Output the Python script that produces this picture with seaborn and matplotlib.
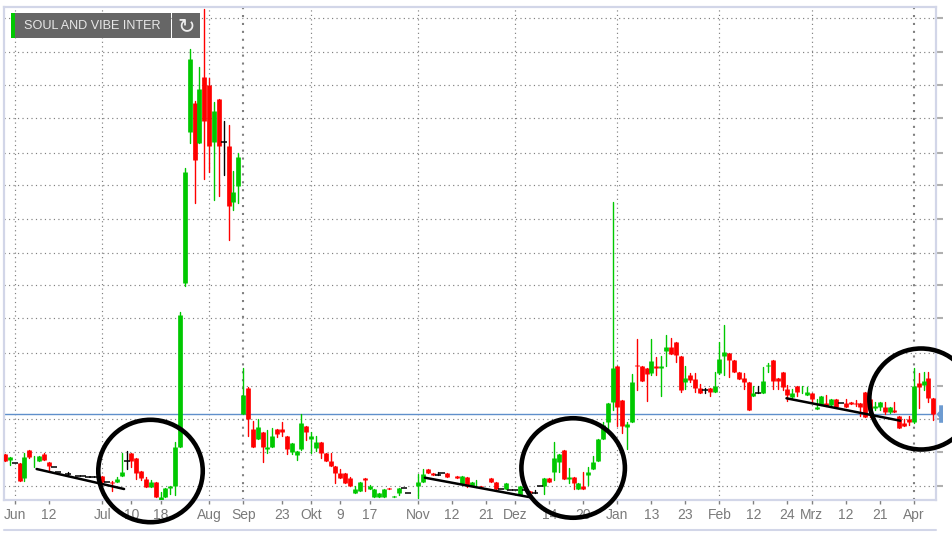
import numpy as np
import pandas as pd
import matplotlib
matplotlib.use("Agg")
import matplotlib.pyplot as plt
from matplotlib.lines import Line2D
from matplotlib.patches import Ellipse, Polygon, Rectangle
import seaborn as sns

na = np.nan

# daily candles, price in chart units (the picture has no price scale)
open_vals = [46, 40, 36.7, 36.7, 22, 50, 36, 39.3, 45.7, 38.3,
             32.7, 28.3, na, 26, 24, 24, 24.3, 23.3, 23.3, 23.3,
             24.3, 17.7, 18.3, 17.7, 24.3, 38.7, 47, 41.7, 28.7, 21,
             13.3, 17.7, 0.5, 3.3, 11.7, 14.3, 52.7, 217.3, 367.7, 397,
             357.3, 422.7, 414.7, 357.7, 400.7, 357.7, 353.7, 298, 314.3, 85.7,
             111.7, 71, 60.7, 67.7, 50.7, 53.3, 71.3, 71.3, 64.3, 48.3,
             45, 50.7, 74, 60.7, 51.7, 57.7, 46.7, 39.3, 34, 27.3,
             27.3, 21.7, 6.7, 9.3, 21.7, 10.7, 2.7, 3.3, 3.3, 11.7,
             2.7, 6.7, 11.7, 7.3, na, 14.3, 18.3, 30.7, 27.3, 25,
             27.3, 27.3, na, 23.7, 16, 22.7, 14, 14, 14.3, na,
             21.7, 17.7, 10.7, 10.7, 10, 10, 5, 10, 9.3, 7.3,
             14.3, 14.3, 21.7, 27.7, 38.3, 50, 21.5, 23.3, 10.7, 14.3,
             25, 30.7, 39, 61, 78, 98, 134, 100, 73.3, 77.7,
             135.5, 134, 131.7, 127.3, 134.3, 132, 149.3, 153.3, 157.7, 144,
             117.7, 125, 120.7, 111.7, 110, 111.7, 107.7, 126.7, 144.3, 146.7,
             140, 127.7, 121.7, 118.3, 104.3, 106.7, 106.7, 134.5, 139.7, 121.7,
             127.7, 111, 103.3, 114.3, 110, 105, 106.7, 90.7, 95, 96.7,
             95, 100.7, 96.7, 96.7, 97.7, 97, 97.3, 107.7, 100.7, 92.5,
             93.3, 93.3, 87.7, 90, 84, 77.3, 80.7, 77.7, 116.7, 115,
             121.7, 101.7]
high_vals = [46.5, 43.5, 36.7, 36.7, 47.3, 50.5, 44, 44, 46.7, 38.3,
             32.7, 28.3, na, 27.7, 24.5, 24, 24.3, 23.3, 23.3, 23.3,
             24.3, 17.7, 19.3, 23, 46.7, 49, 47.5, 41.7, 28.7, 23.3,
             20, 17.7, 8.3, 11.7, 14.3, 58.3, 187.7, 331.7, 451, 398.7,
             433.3, 491, 422.3, 398, 400.7, 379, 375, 329, 346.7, 132,
             113, 79, 81, 67.7, 70, 71.7, 71.3, 77.7, 64.3, 56.7,
             49.3, 85.7, 74, 68, 64, 57.7, 46.7, 46.7, 34, 31,
             27.3, 23.3, 14, 18.3, 21.7, 15, 10.7, 7.3, 11, 11.7,
             4, 11.7, 11.7, 7.3, na, 26, 31, 31, 27.3, 28,
             27.3, 27.3, na, 23.7, 24.3, 22.7, 17.7, 20, 14.3, na,
             21.7, 17.7, 10.7, 17, 10, 10, 14.3, 10, 9.3, 10,
             14.3, 21.7, 21.7, 57.7, 46, 50.5, 32.3, 23.3, 17.3, 28.3,
             32.7, 44, 61, 78.3, 97, 298.3, 134, 100, 78, 126,
             161, 134, 131.7, 161, 143.3, 144, 165, 161.7, 157.7, 144,
             134, 127.3, 127.3, 115.7, 112.3, 111.7, 128.3, 157.7, 175, 146.7,
             140, 127.7, 126.7, 118.3, 114.3, 114.3, 133.3, 136.7, 139.7, 121.7,
             127.7, 115, 111, 114.3, 114.3, 113.3, 106.7, 101, 104.3, 105,
             100.7, 100.7, 96.7, 100.7, 97.7, 100, 97.3, 107.7, 100.7, 97.7,
             97.7, 98.3, 93.3, 97.7, 84, 80.7, 84.3, 131.7, 126.7, 127.7,
             127.7, 101.7]
low_vals = [39, 35, 36.7, 19, 19.3, 42.3, 33, 39.3, 39.7, 30,
            32.7, 28.3, na, 24.3, 24, 24, 24.3, 23.3, 23.3, 23.3,
            17.7, 17.7, 9.3, 17.7, 24.3, 31, 33.3, 20.7, 20, 13.3,
            13.3, 2.7, 0, 3.3, 6, 5, 52.7, 214.3, 357.3, 297.3,
            357.3, 321, 328, 300, 304, 325, 260, 290, 297.3, 85.7,
            64.3, 53.3, 60.7, 38.3, 47, 53.3, 63, 64.3, 46, 46,
            40, 50, 60, 46.7, 49, 41.7, 39, 34, 17.3, 22.3,
            17.3, 14, 6.7, 9.3, 9.3, 10.7, 2.7, 3.3, 3.3, 10.7,
            2.7, 5, 11.7, 7.3, na, 2.3, 18.3, 26.7, 24.7, 25,
            27.3, 23.3, na, 22.5, 16, 13, 14, 13.5, 12.7, na,
            17.7, 10.7, 10.7, 10.7, 10, 10, 5, 10, 6.7, 7.3,
            14.3, 6, 17.7, 20, 28, 20.7, 17.3, 11, 10.7, 10.7,
            15, 30.7, 39, 61, 70, 90, 74, 67.3, 50.7, 77.7,
            110, 119, 99.3, 125, 125, 104.3, 134.3, 146, 138.3, 107.7,
            111, 117.7, 107.7, 106.7, 107.3, 104, 107.7, 126, 125, 123.3,
            128.3, 121, 111, 90, 104.3, 106.7, 106.7, 127.7, 111, 111,
            110, 99.3, 102, 104, 106.7, 105, 96.7, 90.7, 95, 94.3,
            95, 93.3, 96.7, 93.3, 95.7, 94, 84, 83.3, 83.3, 90,
            90, 86, 87, 87.7, 71.7, 74, 75, 77, 91.7, 110,
            98.3, 80]
close_vals = [39, 43.3, 36.7, 19.3, 43, 43, 36.3, 44, 39.7, 34,
              32.7, 28.3, na, 26, 24.5, 24, 24.3, 23.3, 23.3, 23.3,
              17.7, 17.7, 16.7, 21, 28, 38.7, 39.3, 26.7, 22, 13.3,
              17.7, 2.7, 3, 11.7, 14.3, 53.3, 185, 328.3, 441.3, 339.7,
              410.7, 378.7, 354, 388.7, 354, 357.7, 293.7, 307.7, 343.3, 104.7,
              81, 53.3, 73.3, 53.3, 53.3, 64.3, 66, 67.7, 50.7, 56.7,
              49.3, 77.3, 67.7, 64.3, 57.7, 46.7, 39.3, 34, 27.3, 22.3,
              17.3, 14, 10.7, 18.3, 20, 14.3, 10.7, 7.3, 11, 10.7,
              4, 11.7, 11.7, 7.3, na, 18.3, 26, 26.7, 24.7, 25,
              27.3, 23.3, na, 22.5, 24.3, 14.3, 17.7, 14.5, 12.7, na,
              17.7, 10.7, 10.7, 16.7, 10, 10, 14.3, 10, 6.7, 7.3,
              14.3, 21.7, 17.7, 41.7, 45.7, 20.7, 22.7, 16.7, 17.3, 10.7,
              28.3, 38.3, 61, 75, 97, 131.7, 93.3, 74, 76, 118.3,
              134.5, 119, 126, 139.3, 132.5, 134.3, 153.3, 146, 145, 110,
              121.7, 120, 111.7, 106.7, 110, 108.3, 114.3, 141.3, 148.3, 140,
              128.3, 121, 118.3, 90, 106.7, 106.7, 119.3, 135.5, 119, 119,
              113.3, 105, 106.7, 107.7, 110.5, 107.7, 101, 93.3, 104.3, 94.3,
              100.7, 93.3, 96.7, 93.3, 95.7, 96.5, 93.3, 83.3, 90, 94,
              97.7, 88.3, 93.3, 87.7, 71.7, 74, 77.7, 114.3, 112.7, 119.3,
              101.7, 86]

month_sessions = [2, 20, 42, 49, 63, 85, 105, 126, 147, 166, 187]
month_labels = ["Jun", "Jul", "Aug", "Sep", "Okt", "Nov", "Dez", "Jan", "Feb", "Mrz", "Apr"]
day_sessions = [9, 26, 32, 57, 69, 75, 92, 99, 112, 119, 133, 140, 154, 161, 173, 180]
day_labels = ["12", "10", "18", "23", "9", "17", "12", "21", "14", "20", "13", "23", "12", "24", "12", "21"]
grid_levels = [14.3, 47.7, 81, 114.5, 146.7, 181.7, 214.7, 247, 281, 314.7, 347, 381.7, 415, 448, 481.7]
last_price = 85.7
title = "SOUL AND VIBE INTER"

GREEN = "#00c800"
RED = "#ff0000"
GREY = "#808080"
FRAME = "#d2d6e8"
BLUE = "#5f8fcb"

sns.set_theme(style="white")
plt.rcParams["font.family"] = ["Liberation Sans", "DejaVu Sans"]

df = pd.DataFrame({"session": range(len(open_vals)), "open": open_vals, "high": high_vals,
                   "low": low_vals, "close": close_vals}).dropna()
df["move"] = np.where(df["close"] > df["open"], "up", np.where(df["close"] < df["open"], "down", "flat"))
palette = {"up": GREEN, "down": RED, "flat": "black"}

fig = plt.figure(figsize=(9.52, 5.38), dpi=100)
ax = fig.add_axes([3.5 / 952, 38 / 538, 932.5 / 952, 493.3 / 538])

# wicks and bodies as one vertical line per session
wicks = df.melt(id_vars=["session", "move"], value_vars=["high", "low"], value_name="price")
sns.lineplot(data=wicks, x="session", y="price", hue="move", palette=palette, units="session",
             estimator=None, sort=False, legend=False, linewidth=1.0, ax=ax, zorder=3)
bodies = df[df["move"] != "flat"].melt(id_vars=["session", "move"], value_vars=["open", "close"], value_name="price")
sns.lineplot(data=bodies, x="session", y="price", hue="move", palette=palette, units="session",
             estimator=None, sort=False, legend=False, linewidth=3.4, ax=ax, zorder=3,
             solid_capstyle="butt")
sns.scatterplot(data=df[df["move"] == "flat"], x="session", y="close", marker="_", color="black",
                s=18, linewidth=1.1, legend=False, ax=ax, zorder=3)

ax.axhline(last_price, color=BLUE, lw=1.0, zorder=2)

ax.set_xlim(-0.31, 191.56)
ax.set_ylim(0, 493.3)
ax.set_xlabel("")
ax.set_ylabel("")

ax.set_xticks(month_sessions)
ax.set_xticklabels(month_labels)
ax.set_xticks(day_sessions, minor=True)
ax.set_xticklabels(day_labels, minor=True)
ax.set_yticks(grid_levels)
ax.set_yticklabels([])
ax.yaxis.tick_right()
ax.grid(True, which="major", color=GREY, linestyle=(0, (1, 2.8)), linewidth=0.85)
ax.set_axisbelow(True)
# Sep and Apr gridlines are heavier in the source
for i in [3, 10]:
    ax.get_xgridlines()[i].set_linewidth(1.5)
ax.tick_params(axis="x", which="both", bottom=True, length=3, width=1, color=GREY,
               labelcolor="#7a7a7a", labelsize=10, pad=2.5)
ax.tick_params(axis="y", right=True, length=5, width=1.5, color="#b0b0b0", labelright=False)
for side in ax.spines:
    ax.spines[side].set_visible(True)
    ax.spines[side].set_color(FRAME)
    ax.spines[side].set_linewidth(1.6)

# hand drawn trend lines and circles
for x0, y0, x1, y1 in [(6.5, 31, 24.5, 11), (86.4, 22.3, 108.1, 2.7), (160.8, 101.7, 184.2, 79.3)]:
    ax.plot([x0, x1], [y0, y1], color="black", lw=1.8, zorder=5, solid_capstyle="round")
for cx, cy, w, h in [(29.94, 29, 21.5, 102.4), (116.9, 32, 21.3, 99.5), (188.5, 101, 21.3, 101)]:
    ax.add_patch(Ellipse((cx, cy), w, h, fill=False, edgecolor="black", lw=3.3, zorder=6, clip_on=False))

# last price marker right of the frame
ax.add_patch(Polygon([(191.65, last_price), (192.2, last_price + 3), (192.2, last_price + 9),
                      (193, last_price + 9), (193, last_price - 8.5), (192.2, last_price - 8.5),
                      (192.2, last_price - 3)], closed=True, color="#6d9bd1", lw=0, clip_on=False, zorder=6))

# outer rule below the labels
fig.add_artist(Line2D([3.5 / 952, 936 / 952], [8 / 538, 8 / 538], color=FRAME, lw=1.5))

# instrument button
def box(x0, y0, x1, y1, color):
    fig.add_artist(Rectangle((x0 / 952, 1 - y1 / 538), (x1 - x0) / 952, (y1 - y0) / 538,
                             transform=fig.transFigure, color=color, lw=0, zorder=7))

box(11, 13, 15.3, 37.7, GREEN)
box(15.3, 13, 171, 37.7, "#666666")
box(172, 13, 200, 37.7, "#666666")
fig.text(92.5 / 952, 1 - 26 / 538, title, color="#e8e8e8", fontsize=9.1, ha="center", va="center", zorder=8)
fig.text(186 / 952, 1 - 26.5 / 538, "\u21bb", color="#eeeeee", fontsize=15, ha="center", va="center",
         family="DejaVu Sans", zorder=8)

fig.savefig("out.png", dpi=100)
